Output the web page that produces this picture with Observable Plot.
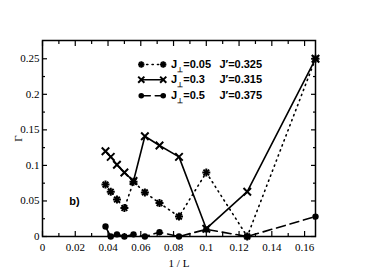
<!DOCTYPE html>
<html><head><meta charset="utf-8">
<script src="https://cdn.jsdelivr.net/npm/d3@7"></script>
<script src="https://cdn.jsdelivr.net/npm/@observablehq/plot@0.6"></script>
<style>body{margin:0;background:#fff}</style>
</head><body><div id="chart"></div>
<script>
// 1/L values (L = 26, 24, ..., 6)
const invL = [1/26, 1/24, 1/22, 1/20, 1/18, 1/16, 1/14, 1/12, 1/10, 1/8, 1/6];
const gammaJ005 = [0.073, 0.063, 0.052, 0.040, 0.077, 0.062, 0.047, 0.028, 0.090, 0.000, 0.250];
const gammaJ03  = [0.120, 0.112, 0.101, 0.090, 0.078, 0.141, 0.128, 0.112, 0.011, 0.063, 0.250];
const gammaJ05  = [0.014, 0.000, 0.003, 0.000, 0.003, 0.000, 0.006, 0.000, 0.010, 0.000, 0.028];
const seriesNames = ["J⊥=0.05", "J⊥=0.3", "J⊥=0.5"];
const jPrimeNames = ["J′=0.325", "J′=0.315", "J′=0.375"];
const xTickValues = [0, 0.02, 0.04, 0.06, 0.08, 0.1, 0.12, 0.14, 0.16];
const xTickLabels = ["0", "0.02", "0.04", "0.06", "0.08", "0.1", "0.12", "0.14", "0.16"];
const xMinorValues = [0.01, 0.03, 0.05, 0.07, 0.09, 0.11, 0.13, 0.15];
const yTickValues = [0, 0.05, 0.1, 0.15, 0.2, 0.25];
const yTickLabels = ["0", "0.05", "0.1", "0.15", "0.2", "0.25"];
const yMinorValues = [0.025, 0.075, 0.125, 0.175, 0.225];
const panelLabel = "b)";

const s005 = invL.map((x, i) => ({x, y: gammaJ005[i]}));
const s03  = invL.map((x, i) => ({x, y: gammaJ03[i]}));
const s05  = invL.map((x, i) => ({x, y: gammaJ05[i]}));

// legend layout (in data units)
const legX1 = 0.0603, legX2 = 0.0737, legTextX = 0.0785, legJX = 0.1080;
const legY = [0.242, 0.2205, 0.198];
const legLines = seriesNames.map((n, i) => [{x: legX1, y: legY[i]}, {x: legX2, y: legY[i]}]);

const fmtX = d => xTickLabels[xTickValues.indexOf(d)];
const fmtY = d => yTickLabels[yTickValues.indexOf(d)];

const dotted = {stroke: "black", strokeWidth: 1.6, strokeDasharray: "1.2,4.2", strokeLinecap: "round"};
const solid = {stroke: "black", strokeWidth: 1.6};
const dashed = {stroke: "black", strokeWidth: 1.6, strokeDasharray: "9,5"};

function starMarks(data, r) {
  return [
    Plot.dot(data, {x: "x", y: "y", symbol: "plus", r, stroke: "black", strokeWidth: 2}),
    Plot.dot(data, {x: "x", y: "y", symbol: "times", r, stroke: "black", strokeWidth: 2})
  ];
}
function crossMarks(data, r) {
  return Plot.dot(data, {x: "x", y: "y", symbol: "times", r, stroke: "black", strokeWidth: 2});
}
function circleMarks(data, r) {
  return Plot.dot(data, {x: "x", y: "y", symbol: "circle", r, fill: "black", stroke: "none"});
}

const plot = Plot.plot({
  width: 382,
  height: 270,
  marginLeft: 42,
  marginRight: 67,
  marginTop: 40,
  marginBottom: 34,
  style: {fontFamily: "Liberation Serif", fontSize: "11px", background: "white", color: "black"},
  x: {domain: [0, 1/6]},
  y: {domain: [0, 0.2757]},
  marks: [
    // lines
    Plot.line(s005, {x: "x", y: "y", ...dotted}),
    Plot.line(s03, {x: "x", y: "y", ...solid}),
    Plot.line(s05, {x: "x", y: "y", ...dashed}),
    ...starMarks(s005, 2.7),
    crossMarks(s03, 3.5),
    circleMarks(s05, 3.2),
    // legend
    Plot.line(legLines[0], {x: "x", y: "y", ...dotted}),
    Plot.line(legLines[1], {x: "x", y: "y", ...solid}),
    Plot.line(legLines[2], {x: "x", y: "y", ...dashed}),
    ...starMarks(legLines[0], 2.2),
    crossMarks(legLines[1], 2.9),
    circleMarks(legLines[2], 2.8),
    Plot.text(seriesNames, {x: legTextX, y: (d, i) => legY[i], text: d => d, textAnchor: "start",
      fontFamily: "Liberation Sans", fontWeight: "bold", fontSize: 11}),
    Plot.text(jPrimeNames, {x: legJX, y: (d, i) => legY[i], text: d => d, textAnchor: "start",
      fontFamily: "Liberation Sans", fontWeight: "bold", fontSize: 11}),
    Plot.text([panelLabel], {x: 0.0195, y: 0.049, text: d => d, fontFamily: "Liberation Sans", fontWeight: "bold", fontSize: 11}),
    // axes: labels
    Plot.axisX(xTickValues, {anchor: "bottom", tickSize: 0, tickPadding: 7, tickFormat: fmtX, fontSize: 11,
      label: "1 / L", labelAnchor: "center", labelArrow: "none", labelOffset: 30}),
    Plot.axisY(yTickValues, {anchor: "left", tickSize: 0, tickPadding: 3, tickFormat: fmtY, fontSize: 11,
      label: "Γ", labelAnchor: "center", labelArrow: "none", labelOffset: 28}),
    // inward ticks
    Plot.axisX(xTickValues, {anchor: "bottom", tickSize: -5, fill: "none", label: null, strokeWidth: 1.2}),
    Plot.axisX(xMinorValues, {anchor: "bottom", tickSize: -3, fill: "none", label: null, strokeWidth: 1.2}),
    Plot.axisX(xTickValues, {anchor: "top", tickSize: -5, fill: "none", label: null, strokeWidth: 1.2}),
    Plot.axisX(xMinorValues, {anchor: "top", tickSize: -3, fill: "none", label: null, strokeWidth: 1.2}),
    Plot.axisY(yTickValues, {anchor: "left", tickSize: -5, fill: "none", label: null, strokeWidth: 1.2}),
    Plot.axisY(yMinorValues, {anchor: "left", tickSize: -3, fill: "none", label: null, strokeWidth: 1.2}),
    Plot.axisY(yTickValues, {anchor: "right", tickSize: -5, fill: "none", label: null, strokeWidth: 1.2}),
    Plot.axisY(yMinorValues, {anchor: "right", tickSize: -3, fill: "none", label: null, strokeWidth: 1.2}),
    Plot.frame({stroke: "black", strokeWidth: 1.5})
  ]
});

// subscript the ⊥ in legend labels
d3.select(plot).selectAll("text").each(function() {
  const el = d3.select(this);
  if (this.childElementCount === 0 && this.textContent.startsWith("J⊥")) {
    const rest = this.textContent.slice(2);
    el.text(null);
    el.append("tspan").text("J");
    el.append("tspan").attr("font-size", "7px").attr("dy", "4").text("⊥");
    el.append("tspan").attr("dy", "-4").text(rest);
  }
});

document.getElementById("chart").appendChild(plot);
</script>
</body></html>
